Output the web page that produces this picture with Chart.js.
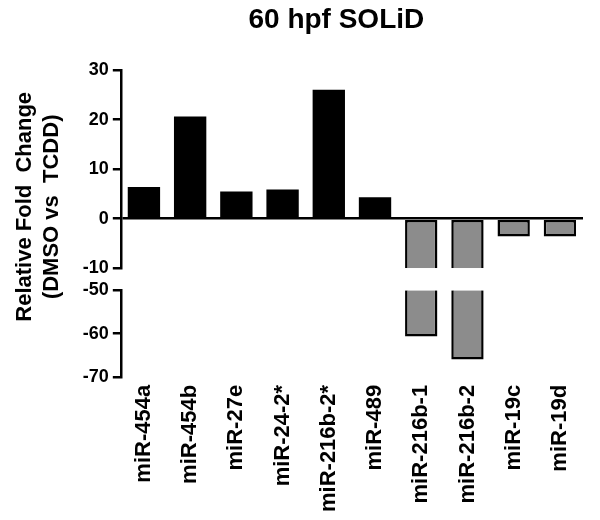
<!DOCTYPE html>
<html><head><meta charset="utf-8">
<script src="https://cdn.jsdelivr.net/npm/chart.js@4"></script>
<style>html,body{margin:0;padding:0;background:#fff}#wrap{width:600px;height:520px}</style>
</head><body><div id="wrap"><canvas id="c"></canvas></div>
<script>
const categories = ['miR-454a','miR-454b','miR-27e','miR-24-2*','miR-216b-2*','miR-489','miR-216b-1','miR-216b-2','miR-19c','miR-19d'];
const foldChange = [6.4, 20.6, 5.5, 5.9, 26.0, 4.3, -60.7, -66.0, -3.6, -3.6];
const upperTicks = [-10, 0, 10, 20, 30];
const lowerTicks = [-70, -60, -50];
const titleText = '60 hpf SOLiD';
const yTitleLines = ['Relative Fold  Change', '(DMSO vs  TCDD)'];

const FONT = '"Liberation Sans", Arial, Helvetica, sans-serif';
const upMin = upperTicks[0], upMax = upperTicks[upperTicks.length - 1];
const loMin = lowerTicks[0], loMax = lowerTicks[lowerTicks.length - 1];

const upperData = foldChange.map(v => Math.max(v, upMin));
const lowerData = foldChange.map(v => v < upMin ? [loMax, v] : null);
const fillFor = v => v >= 0 ? '#000000' : '#8c8c8c';
const borderFor = v => v >= 0 ? 0 : 2.5;

const axisGrid = (onArea) => ({
  display: true,
  drawOnChartArea: onArea,
  color: ctx => (ctx.tick && ctx.tick.value === 0) ? '#000' : 'rgba(0,0,0,0)',
  tickColor: '#000',
  tickLength: 8,
  lineWidth: 2.5
});
const tickFont = { family: FONT, size: 18, weight: 'bold' };

new Chart(document.getElementById('c'), {
  type: 'bar',
  data: {
    labels: categories,
    datasets: [
      {
        data: upperData,
        yAxisID: 'y',
        grouped: false,
        backgroundColor: foldChange.map(fillFor),
        borderColor: '#000',
        borderWidth: foldChange.map(borderFor),
        borderSkipped: foldChange.map(v => v < upMin ? 'end' : false),
        categoryPercentage: 1,
        barPercentage: 0.7
      },
      {
        data: lowerData,
        yAxisID: 'y2',
        grouped: false,
        backgroundColor: foldChange.map(fillFor),
        borderColor: '#000',
        borderWidth: 2.5,
        borderSkipped: 'start',
        categoryPercentage: 1,
        barPercentage: 0.7
      }
    ]
  },
  options: {
    responsive: true,
    maintainAspectRatio: false,
    animation: false,
    devicePixelRatio: 1,
    layout: { padding: { left: 4, right: 17, top: 0, bottom: 0 } },
    plugins: {
      legend: { display: false },
      tooltip: { enabled: false },
      title: {
        display: true,
        text: titleText + '    ',
        fullSize: false,
        color: '#000',
        font: { family: FONT, size: 28, weight: 'bold' },
        padding: { top: 3, bottom: 33.4 }
      }
    },
    scales: {
      x: {
        type: 'category',
        position: 'bottom',
        grid: { display: false, drawTicks: false },
        border: { display: false },
        ticks: { autoSkip: false, minRotation: 90, maxRotation: 90, padding: 8, color: '#000',
                 font: { family: FONT, size: 22, weight: 'bold' } }
      },
      yTitle: {
        type: 'linear', position: 'left', stack: 'title', stackWeight: 272, weight: 5,
        ticks: { display: false },
        grid: { display: false, drawTicks: false },
        border: { display: false },
        title: { display: true, text: yTitleLines, color: '#000',
                 font: { family: FONT, size: 22, weight: 'bold' }, padding: { top: 8, bottom: 14 } }
      },
      yTitlePad: {
        type: 'linear', position: 'left', stack: 'title', stackWeight: 33, weight: 4, display: false
      },
      y: {
        type: 'linear', position: 'left', stack: 'axis', stackWeight: 197, weight: 3,
        min: upMin, max: upMax,
        afterBuildTicks: s => { s.ticks = upperTicks.map(v => ({ value: v })); },
        ticks: { color: '#000', padding: 4, font: tickFont },
        grid: axisGrid(true),
        border: { display: true, color: '#000', width: 2.5 }
      },
      yGap: {
        type: 'linear', position: 'left', stack: 'axis', stackWeight: 22, weight: 2, display: false
      },
      y2: {
        type: 'linear', position: 'left', stack: 'axis', stackWeight: 86, weight: 1,
        min: loMin, max: loMax,
        afterBuildTicks: s => { s.ticks = lowerTicks.map(v => ({ value: v })); },
        ticks: { color: '#000', padding: 4, font: tickFont },
        grid: axisGrid(false),
        border: { display: true, color: '#000', width: 2.5 }
      }
    }
  }
});
</script>
</body></html>
